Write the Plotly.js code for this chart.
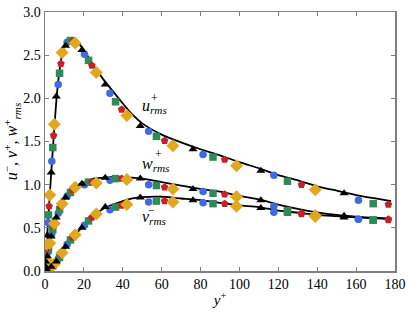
<!DOCTYPE html>
<html>
<head>
<meta charset="utf-8">
<script src="https://cdn.plot.ly/plotly-3.0.1.min.js"></script>
<style>html,body{margin:0;padding:0;background:#fff;}#chart{width:413px;height:312px;}</style>
</head>
<body>
<div id="chart"></div>
<script>
// sampled y+ positions shared by the five marker datasets (cycled T, C, S, P, D)
const yPlus = [0.3,0.42,0.55,0.7,0.85, 1.15,1.55,1.8,2.1,2.45, 3.2,3.5,4.0,4.4,4.8,
  5.8,6.8,7.5,8.2,8.8, 10.6,11.4,13.1,14.3,15.5, 19.0,20.3,22.4,24.1,26.4,
  31.0,33.4,36.3,39.4,42.1, 49.0,53.3,57.3,61.5,65.8, 76.1,81.3,86.4,92.4,98.5,
  111,117.7,124.7,131.9,139.0, 153.8,161.2,168.8,176.6];
const uRms = [0.11,0.15,0.20,0.25,0.31, 0.41,0.56,0.65,0.75,0.88, 1.14,1.27,1.43,1.57,1.70,
  2.02,2.16,2.29,2.40,2.53, 2.61,2.65,2.67,2.66,2.64, 2.56,2.51,2.44,2.38,2.30,
  2.16,2.06,1.96,1.87,1.80, 1.68,1.62,1.56,1.51,1.45, 1.41,1.35,1.32,1.29,1.22,
  1.16,1.11,1.04,1.00,0.94, 0.90,0.82,0.78,0.77];
const wRms = [0.05,0.07,0.09,0.11,0.13, 0.17,0.22,0.25,0.29,0.32, 0.40,0.43,0.48,0.52,0.55,
  0.62,0.67,0.71,0.75,0.78, 0.85,0.87,0.91,0.94,0.97, 1.01,1.00,1.03,1.03,1.02,
  1.08,1.05,1.07,1.07,1.06, 1.07,1.00,0.99,0.97,0.95, 0.95,0.92,0.90,0.89,0.86,
  0.82,0.75,0.70,0.67,0.64, 0.64,0.60,0.59,0.60];
const vRms = [0.00,0.00,0.00,0.00,0.01, 0.01,0.02,0.02,0.03,0.03, 0.05,0.05,0.06,0.07,0.08,
  0.11,0.14,0.16,0.19,0.21, 0.28,0.31,0.36,0.39,0.42, 0.50,0.53,0.58,0.62,0.66,
  0.74,0.71,0.74,0.76,0.77, 0.85,0.80,0.81,0.81,0.80, 0.82,0.79,0.78,0.78,0.75,
  0.73,0.68,0.68,0.66,0.63, 0.62,0.60,0.59,0.59];

// reference (solid line) profiles
const lineX = [0,1,2,3,4,5,6,7,8,9,10,12,14,16,18,20,25,30,35,40,45,50,60,70,80,90,100,110,120,130,140,150,160,170,178];
const uLine = [0,0.36,0.72,1.07,1.40,1.72,2.02,2.24,2.41,2.53,2.61,2.67,2.69,2.67,2.62,2.56,2.38,2.22,2.08,1.94,1.81,1.71,1.58,1.49,1.41,1.34,1.26,1.19,1.11,1.05,0.98,0.93,0.88,0.84,0.81];
const wLine = [0,0.13,0.26,0.36,0.46,0.54,0.61,0.67,0.73,0.78,0.83,0.89,0.94,0.98,1.01,1.03,1.07,1.08,1.09,1.09,1.08,1.07,1.03,0.99,0.95,0.92,0.87,0.83,0.77,0.72,0.68,0.65,0.63,0.615,0.605];
const vLine = [0,0.005,0.02,0.04,0.06,0.08,0.11,0.14,0.17,0.21,0.25,0.32,0.38,0.43,0.48,0.52,0.64,0.72,0.77,0.81,0.84,0.855,0.86,0.84,0.82,0.79,0.76,0.74,0.70,0.675,0.65,0.635,0.62,0.61,0.605];

const xTicks = [0,20,40,60,80,100,120,140,160,180];
const yTicks = [0.0,0.5,1.0,1.5,2.0,2.5,3.0];

const groups = [
  {symbol:'triangle-up', color:'#000000', size:8},
  {symbol:'circle', color:'#4169e1', size:7.5},
  {symbol:'square', color:'#2e8b57', size:7.5},
  {symbol:'pentagon', color:'#c42228', size:8},
  {symbol:'diamond', color:'#e0a820', size:10}
];

const traces = [];
[uLine, wLine, vLine].forEach(arr => {
  traces.push({x: lineX, y: arr, mode:'lines', line:{color:'#000', width:1.8, shape:'spline', smoothing:0.6}, hoverinfo:'skip', showlegend:false});
});
const order = [1,2,3,4,0];
order.forEach(g => {
  const xs = [], ys = [];
  [uRms, wRms, vRms].forEach(series => {
    yPlus.forEach((x, i) => { if (i % 5 === g) { xs.push(x); ys.push(series[i]); } });
  });
  traces.push({x: xs, y: ys, mode:'markers', showlegend:false,
    marker:{symbol: groups[g].symbol, color: groups[g].color, size: groups[g].size, line:{width:0}}});
});

const fam = "Liberation Serif";
const font = {family:fam, size:14, color:'#000'};
const axisCommon = {showline:true, linecolor:'#808080', linewidth:1.5, mirror:'ticks', ticks:'inside', ticklen:4,
  tickcolor:'#808080', tickwidth:1, showgrid:false, zeroline:false, tickfont:font};

const layout = {
  width:413, height:312,
  margin:{l:45, r:18, t:12, b:41},
  paper_bgcolor:'#fff', plot_bgcolor:'#fff',
  font: font,
  xaxis: Object.assign({}, axisCommon, {range:[0,180], tickvals:xTicks, ticktext:xTicks.map(String),
    title:{text:'<i>y</i><sup>+</sup>', font:{family:fam, size:15}, standoff:3}}),
  yaxis: Object.assign({}, axisCommon, {range:[0,3], tickvals:yTicks, ticktext:yTicks.map(v=>v.toFixed(1)),
    title:{text:'<i>u</i><sup>−</sup>, <i>v</i><sup>+</sup>, <i>w</i><sup>+</sup><sub><i>rms</i></sub>', font:{family:fam, size:16}, standoff:1}}),
  annotations: [
    {x:49.0, y:1.90, xref:'x', yref:'y', text:'<i>u</i><sub><i>rms</i></sub>', showarrow:false, xanchor:'left', yanchor:'middle', font:{family:fam, size:16}},
    {x:56.3, y:2.00, xref:'x', yref:'y', text:'+', showarrow:false, xanchor:'center', yanchor:'middle', font:{family:fam, size:12}},
    {x:49.0, y:1.23, xref:'x', yref:'y', text:'<i>w</i><sub><i>rms</i></sub>', showarrow:false, xanchor:'left', yanchor:'middle', font:{family:fam, size:16}},
    {x:58.3, y:1.36, xref:'x', yref:'y', text:'+', showarrow:false, xanchor:'center', yanchor:'middle', font:{family:fam, size:12}},
    {x:49.0, y:0.62, xref:'x', yref:'y', text:'<i>v</i><sub><i>rms</i></sub>', showarrow:false, xanchor:'left', yanchor:'middle', font:{family:fam, size:16}},
    {x:54.8, y:0.71, xref:'x', yref:'y', text:'−', showarrow:false, xanchor:'center', yanchor:'middle', font:{family:fam, size:12}}
  ]
};

Plotly.newPlot('chart', traces, layout, {displayModeBar:false, staticPlot:true});
</script>
</body>
</html>
